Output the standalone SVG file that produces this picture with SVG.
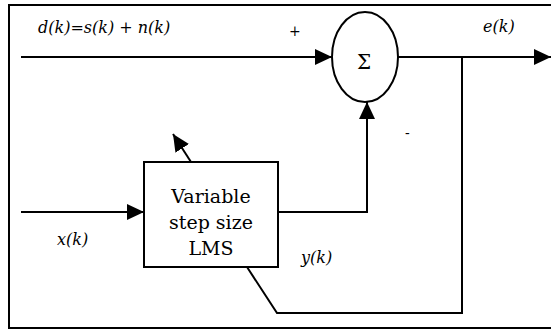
<svg xmlns="http://www.w3.org/2000/svg" width="551" height="330" viewBox="0 0 551 330">
<defs>
<style>
.ln{fill:none;stroke:#000;stroke-width:2}
.t{font-family:'DejaVu Serif',serif;fill:#000}
.it{font-style:italic;font-size:16px}
.bx{font-size:19px;text-anchor:middle}
</style>
<marker id="ah" markerUnits="userSpaceOnUse" markerWidth="17" markerHeight="16" refX="17" refY="8" orient="auto">
<path d="M0,0 L17,8 L0,16 z" fill="#000"/>
</marker>
</defs>
<rect x="9" y="5" width="570" height="323" fill="#fff" stroke="#000" stroke-width="2"/>
<g id="connectors">
<path class="ln" d="M21,57 H332" marker-end="url(#ah)"/>
<path class="ln" d="M398,57 H551" marker-end="url(#ah)"/>
<path class="ln" d="M462,57 V313 H277 L247,267"/>
<path class="ln" d="M21,212 H144" marker-end="url(#ah)"/>
<path class="ln" d="M278,212 H367 V102" marker-end="url(#ah)"/>
<path class="ln" d="M191,162 L173,134" marker-end="url(#ah)"/>
</g>
<g id="sum">
<ellipse cx="365" cy="57" rx="33" ry="45" fill="#fff" stroke="#000" stroke-width="2"/>
<text class="t" x="364" y="69" font-size="20" text-anchor="middle">Σ</text>
</g>
<g id="lms">
<rect x="144" y="162" width="134" height="105" fill="#fff" stroke="#000" stroke-width="2"/>
<text class="t bx" x="211" y="203">Variable</text>
<text class="t bx" x="211" y="229">step size</text>
<text class="t bx" x="211" y="255">LMS</text>
</g>
<g id="labels">
<text class="t it" x="38" y="33">d(k)=s(k) + n(k)</text>
<text class="t" x="289" y="36" font-size="14">+</text>
<text class="t it" x="483" y="32">e(k)</text>
<text class="t" x="405" y="138" font-size="14">-</text>
<text class="t it" x="57" y="245">x(k)</text>
<text class="t it" x="301" y="263">y(k)</text>
</g>
</svg>
